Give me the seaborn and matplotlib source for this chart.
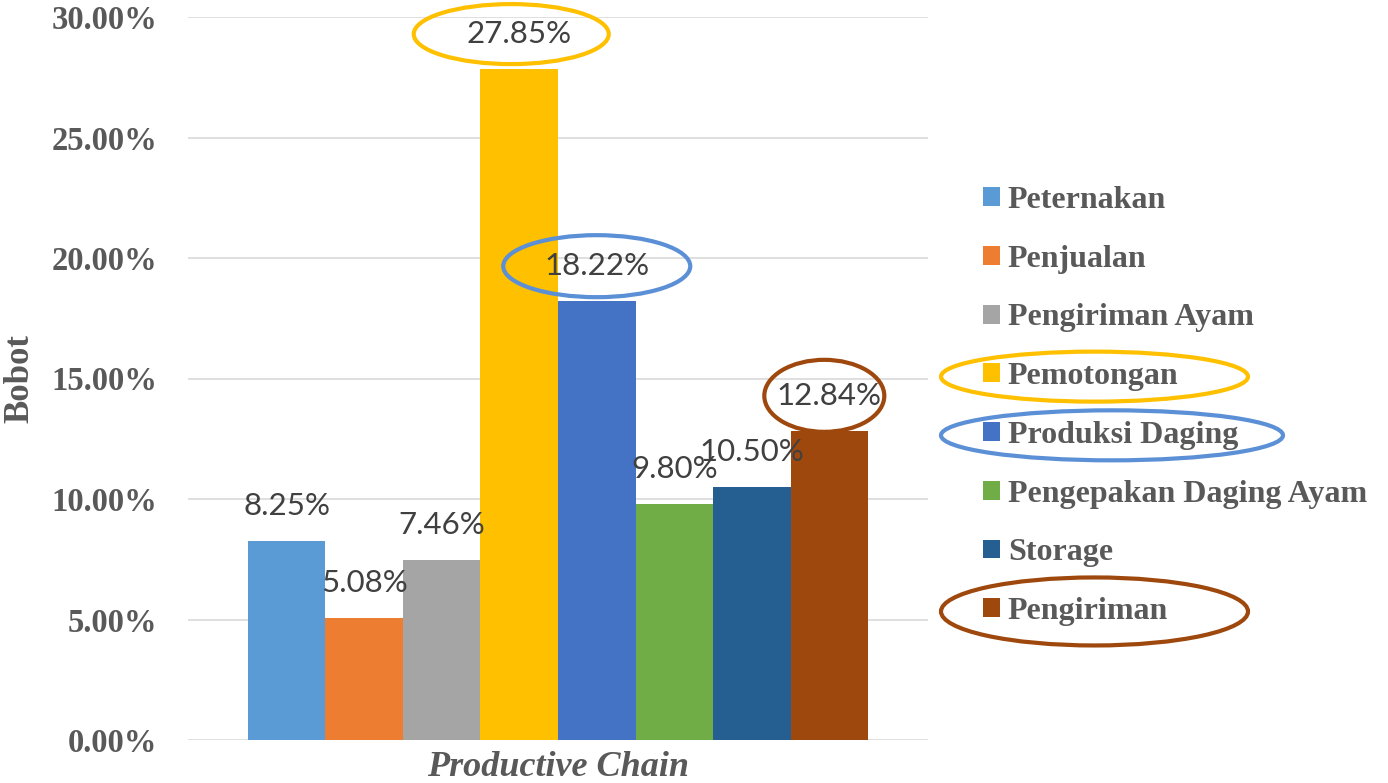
import matplotlib
matplotlib.use("Agg")
import matplotlib.pyplot as plt
import seaborn as sns
import pandas as pd
from matplotlib.patches import Ellipse, Patch
from matplotlib.transforms import IdentityTransform
from matplotlib.font_manager import FontProperties

# Weight of each stage along the broiler productive chain (percent)
stages = ["Peternakan", "Penjualan", "Pengiriman Ayam", "Pemotongan",
          "Produksi Daging", "Pengepakan Daging Ayam", "Storage", "Pengiriman"]
bobot = [8.25, 5.08, 7.46, 27.85, 18.22, 9.80, 10.50, 12.84]
stage_colors = ["#5B9BD5", "#ED7D31", "#A5A5A5", "#FFC000",
                "#4472C4", "#70AD47", "#255E91", "#9E480E"]
y_ticks = [0, 5, 10, 15, 20, 25, 30]
chain_label = "Productive Chain"
y_label = "Bobot"

# Ringed stages: ring colour, (w, h, dx) of the ring round the value label,
# (w, h) of the ring round the legend entry -- all in pixels
highlights = {
    "Pemotongan": ("#FFC000", (195, 60, -8), (307, 50)),
    "Produksi Daging": ("#5B8FD6", (187, 62, 0), (342, 50)),
    "Pengiriman": ("#9E480E", (120, 72, -5), (307, 68)),
}

df = pd.DataFrame({"chain": [chain_label] * len(stages), "stage": stages, "bobot": bobot})

sns.set_theme(style="white")
W, H, DPI = 1388, 783, 100
fig = plt.figure(figsize=(W / DPI, H / DPI), dpi=DPI)
ax = fig.add_axes([188 / W, (H - 740) / H, 740 / W, 723 / H])

sns.barplot(data=df, x="chain", y="bobot", hue="stage", hue_order=stages,
            palette=stage_colors, saturation=1, width=0.838, gap=0,
            linewidth=0, legend=False, ax=ax)

serif_bold = dict(family="Liberation Serif", weight="bold")
grey = "#595959"

ax.set_ylim(0, 30)
ax.set_xlim(-0.5, 0.5)
ax.set_yticks(y_ticks)
ax.set_yticklabels([f"{t:.2f}%" for t in y_ticks], fontsize=23.5, color=grey,
                   **serif_bold)
ax.tick_params(axis="y", length=0, pad=22)
ax.tick_params(axis="x", length=0, labelbottom=False)
ax.yaxis.grid(True, color="#D9D9D9", linewidth=1.2)
ax.set_axisbelow(True)
for s in ax.spines.values():
    s.set_visible(False)

ax.set_xlabel(chain_label, fontsize=26, color=grey, style="italic",
              labelpad=8, **serif_bold)
ax.set_ylabel(y_label, fontsize=25, color=grey, labelpad=11, **serif_bold)

# value labels above each bar
value_texts = {}
for stage, val, container in zip(stages, bobot, ax.containers):
    bar = container.patches[0]
    xc = bar.get_x() + bar.get_width() / 2
    t = ax.annotate(f"{val:.2f}%", (xc, val), xytext=(0, 25),
                    textcoords="offset points", ha="center", va="center",
                    fontsize=22.5, color="#404040", family="Lato")
    value_texts[stage] = t

handles = [Patch(facecolor=c, edgecolor="none") for c in stage_colors]
leg = fig.legend(handles, stages, loc="upper left",
                 bbox_to_anchor=(983 / W, 1 - 186 / H), frameon=False,
                 prop=FontProperties(size=23, **serif_bold), labelcolor=grey,
                 handlelength=0.53, handleheight=0.53, handletextpad=0.25,
                 labelspacing=0.93, borderpad=0, borderaxespad=0)

fig.canvas.draw()
renderer = fig.canvas.get_renderer()

for stage, (ring, (lw_, lh_, ldx), (gw, gh)) in highlights.items():
    bb = value_texts[stage].get_window_extent(renderer)
    fig.add_artist(Ellipse(((bb.x0 + bb.x1) / 2 + ldx, (bb.y0 + bb.y1) / 2),
                           lw_, lh_, fill=False, edgecolor=ring, linewidth=3,
                           transform=IdentityTransform()))
    i = stages.index(stage)
    hb = leg.legend_handles[i].get_window_extent(renderer)
    tb = leg.get_texts()[i].get_window_extent(renderer)
    x_left = hb.x0 - 42
    fig.add_artist(Ellipse((x_left + gw / 2, (tb.y0 + tb.y1) / 2), gw, gh,
                           fill=False, edgecolor=ring, linewidth=3,
                           transform=IdentityTransform()))

fig.savefig("out.png", dpi=DPI)
